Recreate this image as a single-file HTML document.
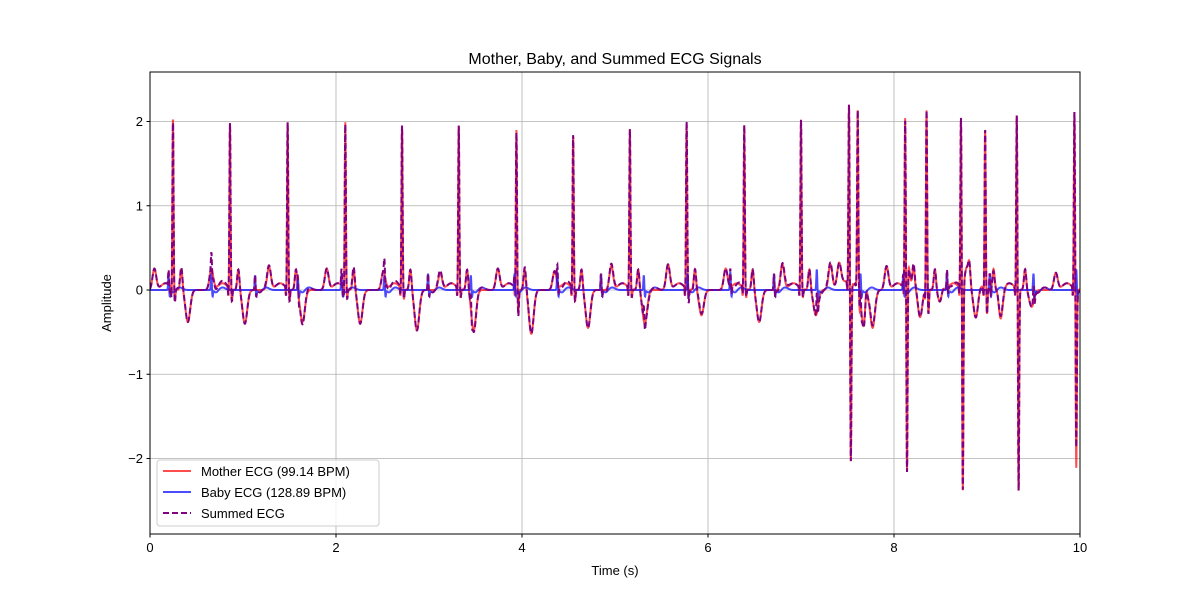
<!DOCTYPE html>
<html><head><meta charset="utf-8"><style>
body{margin:0;background:#fff;}
svg text{font-family:"Liberation Sans","DejaVu Sans",sans-serif;}
</style></head><body>
<svg id="chart" width="1200" height="600">
<rect width="1200" height="600" fill="#fff"/>
<g id="grid"></g>
<g id="series"></g>
<rect x="150" y="72" width="930" height="462" fill="none" stroke="#000" stroke-width="1"/>
<g id="axes"></g>
<text x="615" y="64" text-anchor="middle" font-size="16">Mother, Baby, and Summed ECG Signals</text>
<text x="615" y="575" text-anchor="middle" font-size="13">Time (s)</text>
<text x="111" y="303" text-anchor="middle" font-size="13" transform="rotate(-90 111 303)">Amplitude</text>
<g>
<rect x="157" y="460" width="222" height="66" rx="3" fill="#fff" fill-opacity="0.8" stroke="#ccc"/>
<line x1="163" y1="471" x2="191" y2="471" stroke="#ff0000" stroke-opacity="0.7" stroke-width="2"/>
<text x="201" y="476" font-size="13">Mother ECG (99.14 BPM)</text>
<line x1="163" y1="492" x2="191" y2="492" stroke="#0000ff" stroke-opacity="0.7" stroke-width="2"/>
<text x="201" y="497" font-size="13">Baby ECG (128.89 BPM)</text>
<line x1="163" y1="513" x2="191" y2="513" stroke="#800080" stroke-width="2" stroke-dasharray="6,3"/>
<text x="201" y="518" font-size="13">Summed ECG</text>
</g>
</svg>
<script>
const xTicks=[0,2,4,6,8,10];
const yTicks=[-2,-1,0,1,2];
const yTickLabels=["\u22122","\u22121","0","1","2"];
const motherBeatTimes=[0.247,0.86,1.48,2.10,2.71,3.32,3.94,4.55,5.16,5.77,6.39,7.0,7.516,7.61,8.12,8.35,8.72,8.98,9.32,9.94];
const motherRAmp=[2.02,1.96,1.97,1.97,1.93,1.93,1.88,1.81,1.89,1.95,1.92,2.0,2.11,1.89,1.93,2.12,2.01,1.88,2.06,2.1];
const motherSAmp=[-0.15,-0.15,-0.15,-0.1,-0.12,-0.1,-0.3,-0.15,-0.1,-0.1,-0.1,-0.1,-2.13,-0.2,-2.42,-0.3,-2.43,-0.3,-2.4,-2.13];
const motherTAmp=[-0.38,-0.4,-0.38,-0.4,-0.48,-0.48,-0.52,-0.45,-0.4,-0.3,-0.38,-0.3,-0.45,-0.45,-0.4,-0.3,-0.4,-0.45,-0.2,-0.3];
const motherPAmp=[0.25,0.25,0.27,0.25,0.22,0.2,0.25,0.22,0.28,0.3,0.25,0.3,0.3,0.25,0.28,0.3,0.25,0.25,0.2,0.2];
const babyBeatTimes=[0.2,0.66,1.13,1.59,2.06,2.52,2.99,3.45,3.92,4.38,4.85,5.31,5.78,6.24,6.71,7.17,7.64,8.1,8.57,9.03,9.5,9.96];
const babyAmp=[0.18,0.2,0.18,0.15,0.2,0.18,0.2,0.18,0.2,0.22,0.2,0.18,0.2,0.22,0.2,0.25,0.2,0.2,0.22,0.2,0.2,0.25];

const X0=150,X1=1080,Y0=534,Y1=72;
const xs=t=>X0+(t-0)/(10-0)*(X1-X0);
const ys=v=>290-v*84.25;
const g=(t,c,s)=>Math.exp(-0.5*((t-c)/s)**2);
const NS="http://www.w3.org/2000/svg";
function mk(tag,attrs,parent){const e=document.createElementNS(NS,tag);for(const k in attrs)e.setAttribute(k,attrs[k]);parent.appendChild(e);return e;}
const grid=document.getElementById('grid'),axes=document.getElementById('axes'),ser=document.getElementById('series');
xTicks.forEach(t=>{const x=xs(t);
 const l=mk('line',{x1:x,x2:x,y1:Y1,y2:Y0,stroke:'#b0b0b0','stroke-width':0.8},grid);
 
 
 mk('line',{x1:x,x2:x,y1:Y0,y2:Y0+3.5,stroke:'#000'},axes);
 const tx=mk('text',{x:x,y:Y0+18,'text-anchor':'middle','font-size':13},axes);tx.textContent=t;
 
 
});
yTicks.forEach((v,i)=>{const y=ys(v);
 const l=mk('line',{x1:X0,x2:X1,y1:y,y2:y,stroke:'#b0b0b0','stroke-width':0.8},grid);
 
 
 mk('line',{x1:X0-3.5,x2:X0,y1:y,y2:y,stroke:'#000'},axes);
 const tx=mk('text',{x:X0-7,y:y+4.5,'text-anchor':'end','font-size':13},axes);tx.textContent=yTickLabels[i];
 
 
});
function mother(t){let v=0;for(let i=0;i<motherBeatTimes.length;i++){const c=motherBeatTimes[i];
 if(Math.abs(t-c)>0.6)continue;
 v+=motherPAmp[i]*g(t,c-0.2,0.02)+0.25*g(t,c+0.09,0.012)
  +motherRAmp[i]*g(t,c,0.006)+motherSAmp[i]*g(t,c+0.02,0.006)-0.15*g(t,c-0.015,0.005)
  +motherTAmp[i]*g(t,c+0.16,0.025)+0.08*g(t,c-0.08,0.05);}
 return v;}
function baby(t){let v=0;for(let i=0;i<babyBeatTimes.length;i++){const c=babyBeatTimes[i];
 if(Math.abs(t-c)>0.2)continue;
 v+=babyAmp[i]*g(t,c,0.005)-0.08*g(t,c+0.012,0.005)+0.03*g(t,c+0.12,0.03)-0.03*g(t,c+0.05,0.02);}
 return v;}
const ts=[];for(let i=0;i<=5000;i++)ts.push(i*0.002);
const path=f=>ts.map((t,i)=>(i?'L':'M')+xs(t).toFixed(2)+' '+ys(f(t)).toFixed(2)).join('');
const clip=mk('clipPath',{id:'pc'},ser);mk('rect',{x:X0,y:Y1,width:X1-X0,height:Y0-Y1},clip);
const pm=mk('path',{d:path(mother),fill:'none',stroke:'#ff0000','stroke-opacity':0.7,'stroke-width':2,'clip-path':'url(#pc)'},ser);


const pb=mk('path',{d:path(baby),fill:'none',stroke:'#0000ff','stroke-opacity':0.7,'stroke-width':2,'clip-path':'url(#pc)'},ser);


const psum=mk('path',{d:path(t=>mother(t)+baby(t)),fill:'none',stroke:'#800080','stroke-width':2,'stroke-dasharray':'6,3','clip-path':'url(#pc)'},ser);


</script>
</body></html>
